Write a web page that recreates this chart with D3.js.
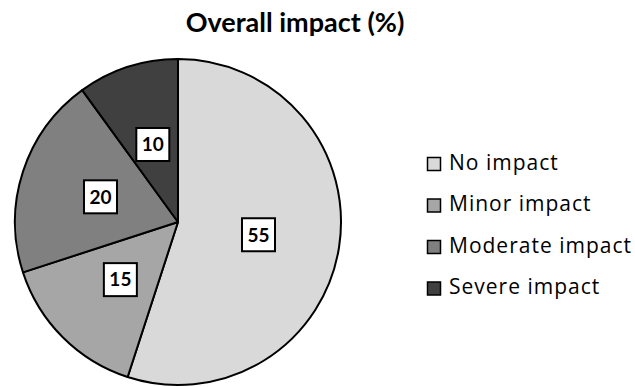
<!DOCTYPE html>
<html>
<head>
<meta charset="utf-8">
<script src="https://cdn.jsdelivr.net/npm/d3@7"></script>
<style>
  html, body { margin: 0; padding: 0; background: #fff; }
  svg { display: block; font-family: Lato, "Open Sans", sans-serif; }
</style>
</head>
<body>
<svg id="chart" width="635" height="387"></svg>
<script>
// Share of respondents by level of impact (%)
const categories = ["No impact", "Minor impact", "Moderate impact", "Severe impact"];
const values = [55, 15, 20, 10];
const colors = ["#d9d9d9", "#a6a6a6", "#808080", "#404040"];
const title = "Overall impact (%)";

const svg = d3.select("#chart");
const cx = 178, cy = 222, R = 163;

svg.append("text")
  .attr("x", 295)
  .attr("y", 31.5)
  .attr("text-anchor", "middle")
  .attr("font-size", 27)
  .attr("font-weight", "bold")
  .attr("fill", "#000")
  .text(title);

const color = d3.scaleOrdinal().domain(categories).range(colors);

const pie = d3.pie().sort(null).value(d => d.value);
const data = categories.map((c, i) => ({ name: c, value: values[i] }));
const arcs = pie(data);

const arc = d3.arc().innerRadius(0).outerRadius(R);

const g = svg.append("g").attr("transform", `translate(${cx},${cy})`);

g.selectAll("path.slice")
  .data(arcs)
  .join("path")
  .attr("class", "slice")
  .attr("d", arc)
  .attr("fill", d => color(d.data.name))
  .attr("stroke", "#000")
  .attr("stroke-width", 2)
  .attr("stroke-linejoin", "round");

// boxed value labels at the middle of each slice
const labels = g.selectAll("g.lbl")
  .data(arcs)
  .join("g")
  .attr("class", "lbl")
  .attr("transform", d => `translate(${arc.centroid(d)})`);

labels.append("rect")
  .attr("x", -16.5)
  .attr("y", -16.5)
  .attr("width", 33)
  .attr("height", 33)
  .attr("fill", "#fff")
  .attr("stroke", "#000")
  .attr("stroke-width", 2);

labels.append("text")
  .attr("text-anchor", "middle")
  .attr("dy", "0.36em")
  .attr("font-size", 19)
  .attr("font-weight", "bold")
  .attr("fill", "#000")
  .text(d => d.data.value);

// legend
const legend = svg.append("g").attr("transform", "translate(427,157)");
const rowH = 41.5;
const items = legend.selectAll("g.item")
  .data(categories)
  .join("g")
  .attr("class", "item")
  .attr("transform", (d, i) => `translate(0,${i * rowH})`);

items.append("rect")
  .attr("x", 0.5)
  .attr("y", 0.5)
  .attr("width", 13)
  .attr("height", 13)
  .attr("fill", d => color(d))
  .attr("stroke", "#000")
  .attr("stroke-width", 1.5);

items.append("text")
  .attr("x", 22)
  .attr("y", 12.5)
  .attr("font-family", "'Open Sans', sans-serif")
  .attr("font-size", 21)
  .attr("letter-spacing", 1)
  .attr("fill", "#000")
  .text(d => d);
</script>
</body>
</html>
